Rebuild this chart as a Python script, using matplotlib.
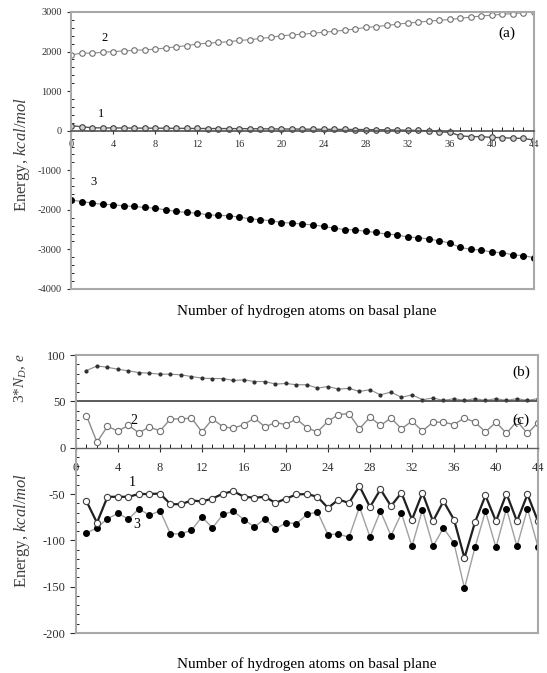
import numpy as np
import matplotlib.pyplot as plt
from matplotlib.ticker import MultipleLocator

plt.rcParams['font.family'] = ['Liberation Serif', 'DejaVu Serif']
plt.rcParams['mathtext.fontset'] = 'custom'
plt.rcParams['mathtext.rm'] = 'Liberation Serif'
plt.rcParams['mathtext.it'] = 'Liberation Serif:italic'
plt.rcParams['axes.unicode_minus'] = False

# ---- panel (a) data: 0..44 hydrogen atoms ----
n_a = np.arange(0, 45)
a_curve2 = [1915, 1960, 1960, 1980, 2000, 2015, 2030, 2045, 2060, 2090,
            2120, 2150, 2190, 2210, 2230, 2250, 2280, 2300, 2330, 2360,
            2400, 2420, 2440, 2460, 2490, 2510, 2540, 2570, 2610, 2630,
            2660, 2690, 2720, 2740, 2770, 2790, 2810, 2840, 2870, 2900,
            2920, 2940, 2960, 2980, 3000]
a_curve1 = [127, 100, 75, 70, 70, 68, 66, 65, 64, 62,
            60, 58, 56, 55, 54, 53, 52, 50, 48, 46,
            44, 42, 40, 38, 36, 34, 32, 30, 28, 25,
            22, 18, 12, 5, 0, -30, -40, -130, -150, -150,
            -170, -175, -190, -195, -240]
a_curve3 = [-1750, -1790, -1830, -1860, -1870, -1900, -1915, -1940, -1960, -2000,
            -2040, -2065, -2085, -2125, -2140, -2150, -2185, -2225, -2250, -2275,
            -2320, -2335, -2360, -2380, -2420, -2460, -2500, -2505, -2545, -2570,
            -2615, -2630, -2690, -2700, -2740, -2780, -2840, -2950, -3000, -3015,
            -3070, -3080, -3140, -3155, -3210]

# ---- panels (b), (c): 1..44 hydrogen atoms ----
n_b = np.arange(1, 45)
b_charge = [83.2, 88.2, 86.8, 84.6, 82.9, 81.0, 80.4, 79.3, 79.3, 78.6,
            76.8, 75.0, 74.6, 74.6, 72.5, 73.2, 71.4, 71.4, 68.6, 69.3,
            67.9, 67.9, 64.3, 66.0, 63.2, 64.0, 60.7, 62.5, 57.0, 60.0,
            54.3, 57.0, 51.8, 53.6, 51.0, 52.9, 51.0, 52.9, 51.0, 52.9,
            51.0, 52.9, 51.0, 52.9]
c_curve2 = [34.6, 6, 23, 18, 24, 16, 22.5, 18, 31, 31,
            32, 17, 31, 22.5, 21, 25, 32, 22.5, 27, 25,
            31, 21.4, 17, 28.6, 35.7, 36.8, 20.4, 33, 24, 32,
            20.4, 28.6, 18, 27.5, 27.5, 25, 32, 27.5, 17, 27.5,
            15.4, 28.6, 15.4, 27]
c_curve1 = [-57.8, -81, -53, -53, -53, -50, -50, -49.5, -61, -61,
            -57, -58, -55, -49.5, -47, -53, -54, -53, -59.6, -55,
            -50.5, -50, -53, -65, -56, -59.6, -41.5, -64, -45, -63,
            -48.7, -77.6, -48.7, -79.4, -57.8, -77.6, -119, -80.5, -51.6, -79.4,
            -49.5, -79.4, -50.5, -79.4]
c_curve3 = [-92, -86.6, -76.5, -71, -77, -66, -73, -68, -93, -93,
            -89, -74.7, -86.6, -72, -68.6, -77.6, -85.6, -76.5, -87.7, -81,
            -82, -72, -69.3, -94, -93, -96.8, -64, -96.4, -68.6, -95,
            -71, -106.5, -66.8, -106.5, -86.6, -103, -151.6, -107.6, -68.6, -107.6,
            -65.7, -106.5, -66, -107]

xlabel = 'Number of hydrogen atoms on basal plane'
frame_col = '#a8a8a8'
line_col = '#8c8c8c'

fig = plt.figure(figsize=(5.47, 6.73), dpi=100)

# ================= panel (a) =================
ax1 = fig.add_axes([0.1298, 0.5706, 0.8464, 0.4116])
ax1.plot(n_a, a_curve2, color=line_col, lw=0.8, marker='o', ms=4,
         mfc='white', mec='#707070', mew=0.8)
ax1.plot(n_a, a_curve1, color='#555555', lw=1.0, marker='o', ms=4,
         mfc='#d0d0d0', mec='#404040', mew=0.8)
ax1.plot(n_a, a_curve3, color=line_col, lw=0.8, marker='o', ms=4,
         mfc='black', mec='black')
ax1.set_xlim(0, 44)
ax1.set_ylim(-4000, 3000)
ax1.spines['bottom'].set_position(('data', 0))
ax1.spines['bottom'].set_color('#505050')
ax1.spines['bottom'].set_linewidth(1.2)
for s in ['top', 'right', 'left']:
    ax1.spines[s].set_color(frame_col)
    ax1.spines[s].set_linewidth(1.5)
ax1.axhline(-4000, color=frame_col, lw=1.5, clip_on=False)
ax1.xaxis.set_major_locator(MultipleLocator(4))
ax1.xaxis.set_minor_locator(MultipleLocator(1))
ax1.yaxis.set_major_locator(MultipleLocator(1000))
ax1.yaxis.set_minor_locator(MultipleLocator(200))
ax1.tick_params(axis='x', which='major', direction='inout', length=5, width=0.8,
                labelsize=7.5, pad=4, colors='#303030')
ax1.tick_params(axis='x', which='minor', direction='in', length=3, width=0.6)
ax1.tick_params(axis='y', which='major', direction='out', length=3, labelsize=7.5,
                colors='#303030')
ax1.tick_params(axis='y', which='minor', direction='in', length=2.5, width=0.6)
ax1.text(3.2, 2340, '2', fontsize=9, ha='center', va='center')
ax1.text(2.9, 430, '1', fontsize=9, ha='center', va='center')
ax1.text(2.1, -1300, '3', fontsize=9, ha='center', va='center')
ax1.text(41.4, 2470, '(a)', fontsize=11, ha='center', va='center')
fig.text(0.04, 0.771, r'Energy, $\mathit{kcal/mol}$', rotation=90, fontsize=12,
         ha='center', va='center', color='#404040')
fig.text(0.561, 1 - 311 / 673, xlabel, fontsize=11, ha='center', va='center')

# ================= panels (b), (c) =================
ax2 = fig.add_axes([0.1389, 0.0594, 0.8446, 0.4131])
ax2.plot(n_b, b_charge, color=line_col, lw=0.8, marker='o', ms=2,
         mfc='#303030', mec='#303030')
ax2.plot(n_b, c_curve2, color=line_col, lw=1.0, marker='o', ms=4.5,
         mfc='white', mec='#707070', mew=0.8)
ax2.plot(n_b, c_curve3, color='#a0a0a0', lw=1.0, marker='o', ms=4,
         mfc='black', mec='black')
ax2.plot(n_b, c_curve1, color='#202020', lw=1.6, marker='o', ms=4.5,
         mfc='white', mec='#404040', mew=0.8)
ax2.axhline(50, color='#404040', lw=1.2)
ax2.set_xlim(0, 44)
ax2.set_ylim(-200, 100)
ax2.spines['bottom'].set_position(('data', 0))
ax2.spines['bottom'].set_color('#606060')
ax2.spines['bottom'].set_linewidth(1.0)
for s in ['top', 'right', 'left']:
    ax2.spines[s].set_color(frame_col)
    ax2.spines[s].set_linewidth(1.5)
ax2.axhline(-200, color=frame_col, lw=1.5, clip_on=False)
ax2.xaxis.set_major_locator(MultipleLocator(4))
ax2.xaxis.set_minor_locator(MultipleLocator(1))
ax2.yaxis.set_major_locator(MultipleLocator(50))
ax2.yaxis.set_minor_locator(MultipleLocator(10))
ax2.tick_params(axis='x', which='major', direction='inout', length=6, width=0.8,
                labelsize=9, pad=7, colors='#303030')
ax2.tick_params(axis='x', which='minor', direction='in', length=3, width=0.6)
ax2.tick_params(axis='y', which='major', direction='out', length=4, labelsize=9,
                colors='#303030')
ax2.tick_params(axis='y', which='minor', direction='in', length=2.5, width=0.6)
ax2.text(5.4, -38, '1', fontsize=10, ha='center', va='center')
ax2.text(5.8, -83, '3', fontsize=10, ha='center', va='center')
ax2.text(5.5, 29, '2', fontsize=10, ha='center', va='center')
ax2.text(42.4, 81, '(b)', fontsize=11, ha='center', va='center')
ax2.text(42.4, 30, '(c)', fontsize=11, ha='center', va='center')
fig.text(0.038, 1 - 378 / 673, r'3*$N_D$, $e$', rotation=90, fontsize=11,
         ha='center', va='center', color='#404040')
fig.text(0.04, 1 - 530 / 673, r'Energy, $\mathit{kcal/mol}$', rotation=90,
         fontsize=12, ha='center', va='center', color='#404040')
fig.text(0.561, 1 - 664 / 673, xlabel, fontsize=11, ha='center', va='center')

fig.savefig('out.png', dpi=100)
